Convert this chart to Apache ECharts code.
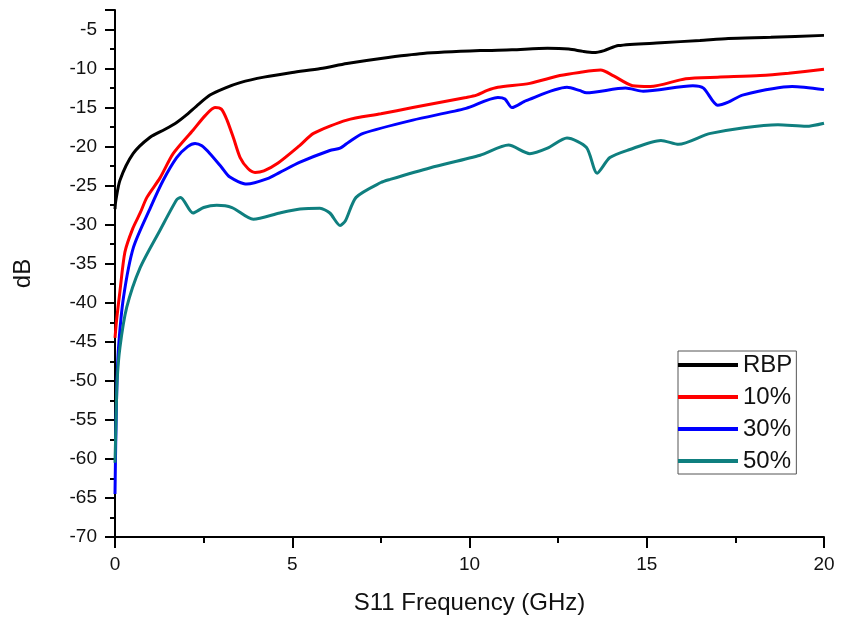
<!DOCTYPE html>
<html>
<head>
<meta charset="utf-8">
<script src="https://cdn.jsdelivr.net/npm/echarts@6/dist/echarts.min.js"></script>
<style>html,body{margin:0;padding:0;background:#fff}#c{width:841px;height:621px}</style>
</head>
<body>
<div id="c"></div>
<script>
const seriesNames = ['RBP', '10%', '30%', '50%'];
const seriesColors = ['#000000', '#ff0000', '#0000ff', '#0f7f7f'];

const rbpFreq = [0, 0.02, 0.14, 0.51, 0.99, 1.4, 1.74, 2.0, 2.3, 2.68, 3.1, 3.53, 4.2, 5.0, 5.8, 6.54, 7.5, 8.69, 10.3, 11.2, 12.2, 12.8, 13.2, 13.5, 13.8, 14.2, 15.4, 16.5, 17.3, 18.5, 20];
const rbpDb = [-28, -27, -24.3, -20.9, -18.8, -17.8, -16.9, -16.0, -14.8, -13.4, -12.5, -11.8, -11.1, -10.5, -10.0, -9.35, -8.7, -8.07, -7.7, -7.6, -7.4, -7.5, -7.8, -7.95, -7.7, -7.05, -6.7, -6.4, -6.15, -6.0, -5.75];

const p10Freq = [0, 0.05, 0.14, 0.28, 0.5, 0.71, 0.9, 1.27, 1.64, 2.2, 2.55, 2.82, 3.0, 3.16, 3.35, 3.53, 3.75, 3.95, 4.2, 4.6, 5.2, 5.6, 6.54, 7.5, 8.4, 9.9, 10.2, 10.5, 10.8, 11.7, 12.55, 13.1, 13.7, 14.05, 14.6, 15.1, 16.1, 17, 18.2, 19, 20];
const p10Db = [-44.5, -42, -38.5, -33.5, -30.5, -28.5, -26.5, -24.0, -20.9, -17.9, -16.0, -15.0, -15.2, -16.6, -19.0, -21.4, -22.8, -23.3, -23.1, -22.1, -19.9, -18.3, -16.6, -15.8, -15.0, -13.7, -13.4, -12.8, -12.4, -11.9, -10.9, -10.5, -10.2, -10.9, -12.2, -12.3, -11.3, -11.1, -10.9, -10.6, -10.1];

const p30Freq = [0, 0.02, 0.05, 0.1, 0.24, 0.52, 1.0, 1.36, 1.74, 2.05, 2.26, 2.45, 2.68, 3.0, 3.24, 3.72, 4.3, 4.65, 5.22, 6.06, 6.35, 6.6, 7.0, 8.4, 9.9, 10.8, 11.0, 11.2, 11.6, 12.75, 13.1, 13.3, 14.4, 14.9, 16.3, 16.6, 17.0, 17.3, 17.7, 19.1, 20];
const p30Db = [-64.5, -58, -51, -45.7, -39.3, -32.9, -27.8, -24.3, -21.4, -20.0, -19.6, -19.9, -20.9, -22.6, -23.9, -24.8, -24.1, -23.3, -22.0, -20.5, -20.2, -19.4, -18.3, -16.6, -15.1, -13.7, -13.9, -15.0, -14.1, -12.4, -12.8, -13.1, -12.5, -12.9, -12.2, -12.5, -14.7, -14.3, -13.4, -12.3, -12.7];

const p50Freq = [0, 0.03, 0.06, 0.14, 0.33, 0.71, 1.27, 1.74, 1.85, 2.2, 2.5, 2.87, 3.3, 3.9, 4.65, 5.22, 5.78, 6.06, 6.35, 6.5, 6.8, 7.5, 7.76, 8.9, 10.3, 11.1, 11.7, 12.2, 12.75, 13.3, 13.6, 13.96, 14.5, 15.4, 15.9, 16.8, 18.7, 19.5, 20];
const p50Db = [-60.5, -55, -50, -45.7, -40.6, -35.5, -30.7, -26.8, -26.5, -28.5, -27.8, -27.5, -27.8, -29.3, -28.5, -28.0, -27.9, -28.5, -30.1, -29.5, -26.5, -24.6, -24.2, -22.7, -21.1, -19.8, -20.9, -20.2, -18.9, -20.1, -23.4, -21.4, -20.4, -19.2, -19.7, -18.3, -17.2, -17.4, -17.0];

const xTicks = [0, 5, 10, 15, 20];
const yMin = -70, yMax = -2.5;

const freqs = [rbpFreq, p10Freq, p30Freq, p50Freq];
const dbs = [rbpDb, p10Db, p30Db, p50Db];

const font = 'Liberation Sans, Arial, sans-serif';
const chart = echarts.init(document.getElementById('c'), null, {renderer: 'canvas'});
chart.setOption({
  animation: false,
  backgroundColor: '#ffffff',
  grid: {left: 115, right: 17, top: 10, bottom: 84, containLabel: false},
  legend: {
    show: true,
    orient: 'vertical',
    left: 678, top: 351,
    width: 119,
    padding: [2, 4, 1, 0],
    borderColor: '#555',
    borderWidth: 1,
    backgroundColor: '#fff',
    icon: 'rect',
    itemWidth: 60,
    itemHeight: 4,
    itemGap: 8,
    data: seriesNames,
    textStyle: {fontFamily: font, fontSize: 24, lineHeight: 24, color: '#111'}
  },
  xAxis: {
    type: 'value', min: xTicks[0], max: xTicks[xTicks.length - 1], interval: 5,
    name: 'S11 Frequency (GHz)', nameLocation: 'middle', nameGap: 54,
    nameTextStyle: {fontFamily: font, fontSize: 24, color: '#111'},
    axisLine: {show: true, onZero: false, lineStyle: {color: '#000', width: 2}},
    axisTick: {show: true, inside: false, length: 11, lineStyle: {color: '#000', width: 2}},
    minorTick: {show: true, splitNumber: 2, length: 6, lineStyle: {color: '#000', width: 2}},
    axisLabel: {fontFamily: font, fontSize: 19, color: '#111', margin: 18},
    splitLine: {show: false}
  },
  yAxis: {
    type: 'value', min: yMin, max: yMax, interval: 5,
    name: 'dB', nameLocation: 'middle', nameGap: 80, nameRotate: 90,
    nameTextStyle: {fontFamily: font, fontSize: 24, color: '#111'},
    axisLine: {show: true, onZero: false, lineStyle: {color: '#000', width: 2}},
    axisTick: {show: true, inside: false, length: 10, lineStyle: {color: '#000', width: 2}},
    minorTick: {show: true, splitNumber: 2, length: 5, lineStyle: {color: '#000', width: 2}},
    axisLabel: {fontFamily: font, fontSize: 19, color: '#111', margin: 18, showMaxLabel: false},
    splitLine: {show: false}
  },
  series: seriesNames.map((n, i) => ({
    name: n,
    type: 'line',
    showSymbol: false,
    smooth: 0.25,
    color: seriesColors[i],
    lineStyle: {width: 3, color: seriesColors[i]},
    data: freqs[i].map((f, j) => [f, dbs[i][j]])
  }))
});
</script>
</body>
</html>
